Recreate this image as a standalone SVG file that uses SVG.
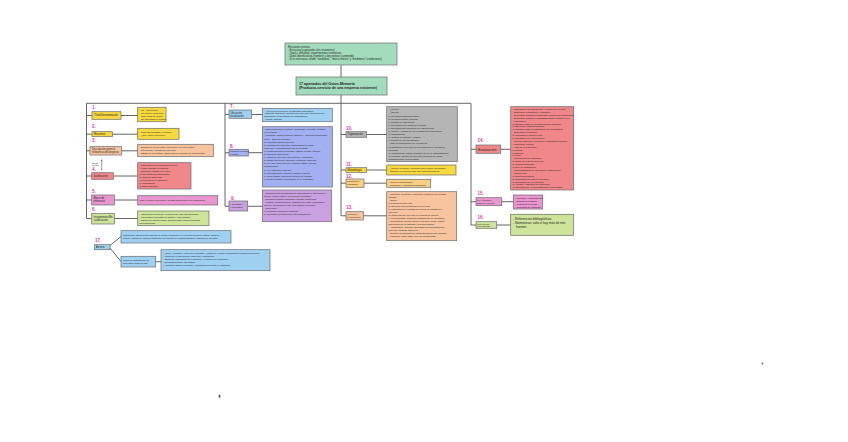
<svg xmlns="http://www.w3.org/2000/svg" width="848" height="442" viewBox="0 0 848 442">
<style>
rect{stroke:#6a6a6a;stroke-width:0.7}
.mint{fill:#a3dcbc}.y{fill:#f7d83e}.pe{fill:#f8c4a0}.r{fill:#f0878a}.pk{fill:#e995cf}.g{fill:#cde49a}.b{fill:#9fd0f2}.pw{fill:#a2aff0}.pu{fill:#c9a0e0}.gr{fill:#b5b5b5}.o{fill:#f8cf85}
.c{stroke:#555;stroke-width:0.9;fill:none}
text{font-family:"Liberation Sans",Arial,sans-serif;fill:#222}
.t{font-size:2.3px}
.nt{font-size:2.6px}
.num{font-size:4.6px;fill:#e8409a;font-weight:bold}
</style>
<defs>
<marker id="ah" viewBox="0 0 6 6" refX="3" refY="3" markerWidth="3" markerHeight="3" orient="auto-start-reverse"><path d="M0,0 L6,3 L0,6 z" fill="#333"/></marker>
</defs>

<g id="connectors">
<line class="c" x1="341" y1="65" x2="341" y2="77"/>
<line class="c" x1="341" y1="95" x2="341" y2="215.8"/>
<line class="c" x1="86.5" y1="103.3" x2="471" y2="103.3"/>
<line class="c" x1="86.5" y1="103.3" x2="86.5" y2="218.5"/>
<line class="c" x1="225" y1="103.3" x2="225" y2="206.3"/>
<line class="c" x1="471" y1="103.3" x2="471" y2="225"/>
<path class="c" d="M86.5,115.5H92M121,115.5H137.7"/>
<path class="c" d="M86.5,134.2H92M112,134.2H137.7"/>
<path class="c" d="M86.5,150.8H90M121.7,150.8H137.7"/>
<path class="c" d="M86.5,176H91.7M113.3,176H137.7"/>
<path class="c" d="M86.5,200H91.7M114.3,200H137.7"/>
<path class="c" d="M86.5,218.5H91.7M114.3,218.5H137.7"/>
<line x1="101.7" y1="160" x2="101.7" y2="169.5" stroke="#333" stroke-width="0.5" marker-start="url(#ah)" marker-end="url(#ah)"/>
<path class="c" d="M110,245.5L121,236.5M110,248L121,261.5M155.7,261.7H161"/>
<path class="c" d="M225,114.5H229M251.7,114.5H262.3"/>
<path class="c" d="M225,152.7H229M248.3,152.7H262.3"/>
<path class="c" d="M225,206.3H229M247.7,206.3H262.3"/>
<path class="c" d="M341,134.5H346M366.7,134.5H386.7"/>
<path class="c" d="M341,170H346M366.7,170H386.7"/>
<path class="c" d="M341,183.2H346M364,183.2H386.7"/>
<path class="c" d="M341,215.8H346M363.3,215.8H386.7"/>
<path class="c" d="M471,149.3H476M500.7,149.3H510.7"/>
<path class="c" d="M471,201.7H476M501.7,201.7H513.3"/>
<path class="c" d="M471,225H476M496.7,225H510.7"/>
</g>

<g id="top">
<rect class="mint" x="285" y="43" width="112" height="22"/>
<text x="288" y="47.5" font-size="2.6">Revisiones previas:<tspan x="288" dy="3">- Estructura y apartados (en resúmenes)</tspan><tspan x="288" dy="3">- Tipo(s), dificultad, requerimientos normativos</tspan><tspan x="288" dy="3">- Datos identificativos (nombre) y descriptivos (contenido)</tspan><tspan x="288" dy="3">- Si es necesario, añadir "normativo", "marco teórico" y "medidores" (condiciones)</tspan></text>
</g>
<g id="main">
<rect class="mint" x="296" y="77" width="91" height="18"/>
<text x="299" y="84.5" font-size="3.6" font-weight="bold">17 apartados del Guion-Memoria<tspan x="299" dy="4.6">(Producto-servicio de una empresa existente)</tspan></text>
</g>

<g id="n1">
<text class="num" x="92" y="109">1.</text>
<rect class="y" x="92" y="111.7" width="29" height="7.6"/>
<text class="nt" x="94" y="116.4">Título/Denominación</text>
<rect class="y" x="137.7" y="107.3" width="28.3" height="14.4"/>
<text class="t" x="139.5" y="111">- Fin - Cuestiones<tspan x="139.5" dy="3">- No incluir el problema</tspan><tspan x="139.5" dy="3">- Usar verbo de acción</tspan><tspan x="139.5" dy="3">- No usar siglas ni marcas</tspan></text>
</g>
<g id="n2">
<text class="num" x="92" y="128">2.</text>
<rect class="y" x="92" y="131.7" width="20.3" height="5"/>
<text class="nt" x="94" y="135.2">Resumen</text>
<rect class="y" x="137.7" y="128.3" width="41.3" height="11"/>
<text class="t" x="139.5" y="132.8">- Unos 300 palabras y una sola<tspan x="139.5" dy="3">- ¿Qué, quién, para qué?</tspan></text>
</g>
<g id="n3">
<text class="num" x="92" y="142">3.</text>
<rect class="pe" x="90" y="146.7" width="31.7" height="8.3"/>
<text class="nt" x="92" y="150">Descripción general<tspan x="92" dy="3">relevancia del proyecto</tspan></text>
<rect class="pe" x="137.7" y="144.3" width="75.6" height="12.4"/>
<text class="t" x="139.5" y="148">- Explicar de qué se trata el proyecto y su idea central<tspan x="139.5" dy="3">- Relevancia y Ventaja del proyecto</tspan><tspan x="139.5" dy="3">- Estado de la cuestión, marco teórico, diálogo con especialistas</tspan></text>
</g>
<g id="tareas">
<text x="92" y="163.5" font-size="2">Tareas<tspan x="92" dy="2.6">previas</tspan></text>
</g>
<g id="n4">
<text class="num" x="92" y="170.5">4.</text>
<rect class="r" x="91.7" y="172.7" width="21.6" height="6.6"/>
<text class="nt" x="93.5" y="176.9">Justificación</text>
<rect class="r" x="137.7" y="162.7" width="53.3" height="26.3"/>
<text class="t" x="139.5" y="166.3">- Datos objetivos (diagnóstico previo)<tspan x="139.5" dy="3">- Lugar: análisis en contexto</tspan><tspan x="139.5" dy="3">- Explicar el porqué en el nivel</tspan><tspan x="139.5" dy="3">a) Necesidad de intervención</tspan><tspan x="139.5" dy="3">b) Solución adecuada</tspan><tspan x="139.5" dy="3">c) Prioridad de la actuación</tspan><tspan x="139.5" dy="3">d) Planificación</tspan><tspan x="139.5" dy="3">e) Datos objetivos</tspan></text>
</g>
<g id="n5">
<text class="num" x="92" y="193">5.</text>
<rect class="pk" x="91.7" y="195" width="22.6" height="10"/>
<text class="nt" x="93.5" y="199">Marco de<tspan x="93.5" dy="3">referencia</tspan></text>
<rect class="pk" x="137.7" y="195.7" width="80" height="9.3"/>
<text class="t" x="139.5" y="201">Usar el marco referencial y normas tradicionales de planificación</text>
</g>
<g id="n6">
<text class="num" x="92" y="211">6.</text>
<rect class="g" x="91.7" y="213.3" width="22.6" height="10.7"/>
<text class="nt" x="93.5" y="217.5">Instrumentos/Re-<tspan x="93.5" dy="3">cualificación</tspan></text>
<rect class="g" x="137.7" y="211" width="71.3" height="14.7"/>
<text class="t" x="139.5" y="214.6">- Consultores Técnicos y Productivos: para intensificación<tspan x="139.5" dy="3">- Intercambio (acuerdos de ámbito y especialidad)</tspan><tspan x="139.5" dy="3">- Estudio de los proyectos / Seguimientos: como flexibilidad</tspan><tspan x="139.5" dy="3">procedimientos</tspan></text>
</g>

<g id="n17">
<text class="num" x="95" y="242">17.</text>
<rect class="b" x="94.3" y="244.7" width="15.7" height="5"/>
<text class="nt" x="96" y="248.2">Anexos</text>
<rect class="b" x="121" y="230.7" width="110" height="12.3"/>
<text class="t" x="123" y="235.5">Información adicional que dificulte la lectura o atención en el cuerpo del texto: planos, hojas de<tspan x="123" dy="3">cálculo, estudio de impacto ambiental, prevención de riesgos laborales, estudios de mercado</tspan></text>
<rect class="b" x="121" y="256.3" width="34.7" height="10.7"/>
<text class="t" x="123" y="260.8">Marco de planificación de<tspan x="123" dy="3">proyectos: según la ISO</tspan></text>
<rect class="b" x="161" y="249.7" width="109" height="21"/>
<text class="t" x="163" y="254">- ¿Qué?, ¿Dónde?, ¿Con qué recursos?, ¿Cómo se evalúa?, parámetros, condiciones previas<tspan x="163" dy="3">- Lógica de la intervención (objetivos y resultados)</tspan><tspan x="163" dy="3">- Objetivos: indicadores de evaluación y Fuentes de verificación</tspan><tspan x="163" dy="3">- Recursos/medios: actividades</tspan><tspan x="163" dy="3">- Hipótesis: factores externos y Condiciones previas (ex-postfirma)</tspan></text>
</g>

<g id="n7">
<text class="num" x="230" y="108">7.</text>
<rect class="b" x="229" y="110" width="22.7" height="8.3"/>
<text class="nt" x="230.5" y="113.5">Ubicación<tspan x="230.5" dy="3">localización</tspan></text>
<rect class="b" x="262.3" y="108.3" width="70" height="13.4"/>
<text class="t" x="264" y="111.6">- Área de proyección de la actividad empresarial<tspan x="264" dy="2.8">- Datos de ubicación: dirección del proyecto, descripción de</tspan><tspan x="264" dy="2.8">actividades, conocimiento de destinatarios</tspan><tspan x="264" dy="2.8">- Planos, gráficos</tspan></text>
</g>
<g id="n8">
<text class="num" x="230" y="148">8.</text>
<rect class="pw" x="229" y="149.3" width="19.3" height="6.7"/>
<text x="230.2" y="152.2" font-size="2.2">Finalidad, objetivos<tspan x="230.2" dy="2.6">y metas</tspan></text>
<rect class="pw" x="262.3" y="126.7" width="70" height="60.3"/>
<text class="t" x="264" y="130.2">- Datos específicos (medible, alcanzable, relevante, acotado<tspan x="264" dy="3.1">en el tiempo)</tspan><tspan x="264" dy="3.1">- Finalidad / objetivo general (Objetivo + objetivos específicos)</tspan><tspan x="264" dy="3.1">Meta + Objetivo operativo</tspan><tspan x="264" dy="3.1">a) Finalidad: Objetivo general</tspan><tspan x="264" dy="3.1">b) Propósito del proyecto: problemática de fondo</tspan><tspan x="264" dy="3.1">(para qué), transformación que se persigue</tspan><tspan x="264" dy="3.1">c) Metas generales: concretar, estimar, ayudar, mejorar</tspan><tspan x="264" dy="3.1">d) Objetivos específicos</tspan><tspan x="264" dy="3.1">e) Metas del proyecto, solo general y afectación</tspan><tspan x="264" dy="3.1">a) Metas: queremos, sabemos, medimos, haciendo</tspan><tspan x="264" dy="3.1">b) Hay que "hacer dinero" o reducir costes, mejorar</tspan><tspan x="264" dy="3.1">productividad</tspan><tspan x="264" dy="3.1">c) Hay estructura (general)</tspan><tspan x="264" dy="3.1">d) Procesamiento, ejercicio, estudio a ofrecer</tspan><tspan x="264" dy="3.1">e) Medir posible resolución (mejora de) calidad</tspan><tspan x="264" dy="3.1">f) Puede revisarse su ubicación en el "resultado"</tspan></text>
</g>
<g id="n9">
<text class="num" x="231" y="200">9.</text>
<rect class="pu" x="229" y="201" width="18.7" height="10"/>
<text x="230.2" y="205" font-size="2.3">Actividades<tspan x="230.2" dy="3">y calendario</tspan></text>
<rect class="pu" x="262.3" y="190" width="69.4" height="31.7"/>
<text class="t" x="264" y="193.6">- Detallar todas las actuaciones (específicas de actividades) y<tspan x="264" dy="3">tareas: realizar cómo y quiénes las ejecutarán</tspan><tspan x="264" dy="3">- Tiempos: recursos (humanos, medios, materiales)</tspan><tspan x="264" dy="3">- Gestión: temporalización, diagrama de Gantt, cronograma,</tspan><tspan x="264" dy="3">apoyos, coordinación entre actividades (ejecución)</tspan><tspan x="264" dy="3">- Calendario</tspan><tspan x="264" dy="3">a) Recursos: tiempo de ejecución</tspan><tspan x="264" dy="3">b) Relaciones de diferencia entre actuaciones</tspan></text>
</g>

<g id="n10">
<text class="num" x="346" y="130">10.</text>
<rect class="gr" x="346" y="131.7" width="20.7" height="5.6"/>
<text class="nt" x="347.5" y="135.4">Organización</text>
<rect class="gr" x="386.7" y="106.7" width="70.6" height="55"/>
<text class="t" x="388.5" y="110.3">- ¿Quién?<tspan x="388.5" dy="3.1">- ¿Quién?</tspan><tspan x="388.5" dy="3.1">a) Recursos organizacionales</tspan><tspan x="388.5" dy="3.1">b) Relaciones tanto externas</tspan><tspan x="388.5" dy="3.1">c) Rasgos de información</tspan><tspan x="388.5" dy="3.1">d) Relaciones con sectores externos</tspan><tspan x="388.5" dy="3.1">e) Recursos para desarrollo de instrumentos</tspan><tspan x="388.5" dy="3.1">f) Alcance y calidad de los recursos del PROYECTO</tspan><tspan x="388.5" dy="3.1">g) Organigrama</tspan><tspan x="388.5" dy="3.1">h) Gestión de calidad y riesgos</tspan><tspan x="388.5" dy="3.1">i) Gestión de las necesidades</tspan><tspan x="388.5" dy="3.1">- Fase de organización de la empresa</tspan><tspan x="388.5" dy="3.1">a) Entidad(es): proyecto de una forma breve (puesto de</tspan><tspan x="388.5" dy="3.1">empresa)</tspan><tspan x="388.5" dy="3.1">b) Participación: control operativo del RAC (administración)</tspan><tspan x="388.5" dy="3.1">c) Realidad: director del proyecto, personal de varios</tspan><tspan x="388.5" dy="3.1">departamentos (involucrados)</tspan></text>
</g>
<g id="n11">
<text class="num" x="346" y="165.5">11.</text>
<rect class="y" x="346" y="167.7" width="20.7" height="4.6"/>
<text class="nt" x="347.5" y="171">Metodología</text>
<rect class="y" x="386.7" y="165" width="69.3" height="10"/>
<text class="t" x="388.5" y="169.3">- ¿Cómo?: técnicas y métodos para realizar actividades<tspan x="388.5" dy="3">- Justificar la elección entre las varias alternativas</tspan></text>
</g>
<g id="n12">
<text class="num" x="346" y="178">12.</text>
<rect class="o" x="346" y="179" width="18" height="8.3"/>
<text x="347.3" y="182.4" font-size="2.3">Promoción y<tspan x="347.3" dy="3">publicidad</tspan></text>
<rect class="o" x="386.7" y="179.3" width="44" height="8"/>
<text class="t" x="388.5" y="182.7">- Plan de comunicación<tspan x="388.5" dy="2.9">- Promoción y publicidad profesional</tspan></text>
</g>
<g id="n13">
<text class="num" x="346" y="209">13.</text>
<rect class="pe" x="346" y="211.7" width="17.3" height="8.3"/>
<text x="347.2" y="215.1" font-size="2.2">Recursos y<tspan x="347.2" dy="3">presupuestos</tspan></text>
<rect class="pe" x="386.7" y="191.7" width="70" height="49"/>
<text class="t" x="388.5" y="195.3">- Humanos, Técnicos y Materiales (justificar los recursos<tspan x="388.5" dy="3">usados)</tspan><tspan x="388.5" dy="3">- Origen</tspan><tspan x="388.5" dy="3">a) Propios del proyecto</tspan><tspan x="388.5" dy="3">b) Externos para la solución del proyecto</tspan><tspan x="388.5" dy="3">c) Valoración de la calidad de los que se garantiza el</tspan><tspan x="388.5" dy="3">proyecto</tspan><tspan x="388.5" dy="3">d) Costo total del proyecto en relación de los tres</tspan><tspan x="388.5" dy="3">e) Presupuestos: desarrollo transparente de los gastos</tspan><tspan x="388.5" dy="3">- Presentación (fuente interna, externa o mixta): indicar</tspan><tspan x="388.5" dy="3">porcentajes de la cantidad y sus porcentajes</tspan><tspan x="388.5" dy="3">- Amortización, ingresos generados por actividades del</tspan><tspan x="388.5" dy="3">proyecto, partidas anteriores</tspan><tspan x="388.5" dy="3">- Relación de financiación: disponibilidad de los recursos</tspan><tspan x="388.5" dy="3">- Partida de Imprevistos: 10% del presupuesto</tspan></text>
</g>

<g id="n14">
<text class="num" x="477.5" y="142">14.</text>
<rect class="r" x="476" y="145" width="24.7" height="8.3"/>
<text x="478" y="150.6" font-size="3.8">Evaluación</text>
<rect class="r" x="510.7" y="106.7" width="63" height="83.3"/>
<text class="t" x="512.5" y="110">- Clasificación de seguimiento y control del proyecto<tspan x="512.5" dy="2.9">- Evaluación cuantitativa y cualitativa</tspan><tspan x="512.5" dy="2.9">- Evaluación formativa (progresos): informes de seguimiento</tspan><tspan x="512.5" dy="2.9">- Evaluación sumativa (resultados finales): balance final</tspan><tspan x="512.5" dy="2.9">- Indicadores</tspan><tspan x="512.5" dy="2.9">a) Eficacia: grado de cumplimiento de objetivos</tspan><tspan x="512.5" dy="2.9">b) Eficiencia: costes/resultados</tspan><tspan x="512.5" dy="2.9">c) Calidad: grado de satisfacción de necesidades</tspan><tspan x="512.5" dy="2.9">- Evaluación económica</tspan><tspan x="512.5" dy="2.9">a) Cuantitativa: flujos de caja</tspan><tspan x="512.5" dy="2.9">b) Cualitativa: de percepciones</tspan><tspan x="512.5" dy="2.9">- Fuentes fiables de verificación: estadísticas oficiales</tspan><tspan x="512.5" dy="2.9">- Momentos, cuándo</tspan><tspan x="512.5" dy="2.9">- Actor de la evaluación:</tspan><tspan x="512.5" dy="2.9">a) Interna</tspan><tspan x="512.5" dy="2.9">b) Externa</tspan><tspan x="512.5" dy="2.9">c) Mixta</tspan><tspan x="512.5" dy="2.9">- Metodología de evaluación</tspan><tspan x="512.5" dy="2.9">a) Grado de éxito del proyecto</tspan><tspan x="512.5" dy="2.9">b) Calidad alcanzada</tspan><tspan x="512.5" dy="2.9">c) Nivel de satisfacción</tspan><tspan x="512.5" dy="2.9">- Responsabilidad de los cargos e instituciones</tspan><tspan x="512.5" dy="2.9">- Informe final</tspan><tspan x="512.5" dy="2.9">a) Datos descriptivos</tspan><tspan x="512.5" dy="2.9">b) Resultados del diseño evaluativo</tspan><tspan x="512.5" dy="2.9">c) Resultados de la evaluación</tspan><tspan x="512.5" dy="2.9">d) Análisis y discusión de resultados</tspan><tspan x="512.5" dy="2.9">e) Conclusiones, recomendaciones y propuestas</tspan></text>
</g>
<g id="n15">
<text class="num" x="477.5" y="194.5">15.</text>
<rect class="pk" x="476" y="197.7" width="25.7" height="8"/>
<text x="477.3" y="201" font-size="2.2">Pre-requisitos /<tspan x="477.3" dy="2.8">factores externos</tspan></text>
<rect class="pk" x="513.3" y="195" width="29.4" height="14"/>
<text class="t" x="515" y="198.5">- Permisos y autorizaciones<tspan x="515" dy="3">- Seguros necesarios</tspan><tspan x="515" dy="3">- Protocolos de riesgo</tspan><tspan x="515" dy="3">- Requisitos de viabilidad</tspan></text>
</g>
<g id="n16">
<text class="num" x="477.5" y="219">16.</text>
<rect class="g" x="476" y="221.7" width="20.7" height="6.6"/>
<text x="477.3" y="224.5" font-size="2.2">Referencias<tspan x="477.3" dy="2.6">bibliográficas</tspan></text>
<rect class="g" x="510.7" y="214.3" width="63" height="21"/>
<text x="513" y="219.5" font-size="3.2">- Referencias bibliográficas<tspan x="513" dy="4.2">- Normativas: solo si hay más de tres</tspan><tspan x="516" dy="4.2">fuentes</tspan></text>
</g>

<rect x="219" y="395" width="1" height="2.5" fill="#333" stroke="none"/>
<rect x="762" y="363" width="1" height="1" fill="#777" stroke="none"/>
</svg>
